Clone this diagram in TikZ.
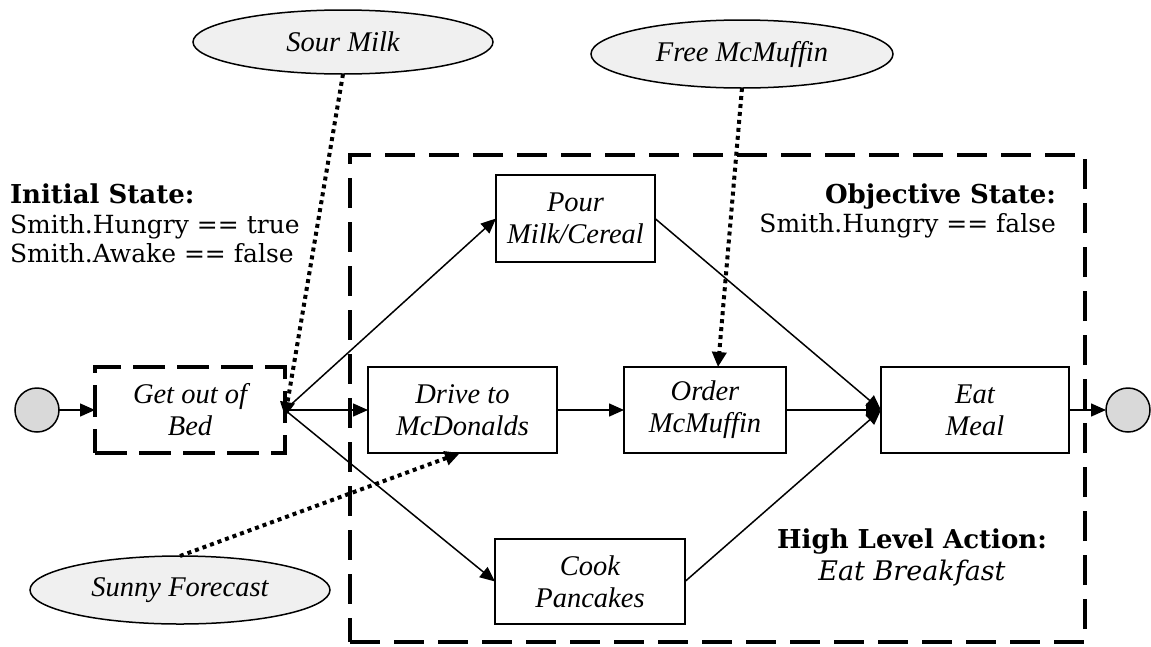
\documentclass[tikz,border=0pt]{standalone}
\usepackage{fontspec}
\setmainfont{DejaVu Serif}
\newfontfamily\tms{Liberation Serif}
\usetikzlibrary{arrows.meta,shapes.geometric}
\definecolor{circfill}{HTML}{D9D9D9}
\definecolor{ellfill}{HTML}{F0F0F0}
\begin{document}
\begin{tikzpicture}[x=1pt,y=-1pt,
  every node/.style={inner sep=0pt,outer sep=0pt},
  actfont/.style={font=\tms\itshape\fontsize{28.5}{32}\selectfont},
  act/.style={draw,line width=1.5pt,rectangle,align=center,actfont},
  hlabox/.style={draw,line width=4pt,rectangle,dash pattern=on 30pt off 14pt},
  goobox/.style={draw,line width=3.5pt,rectangle,align=center,actfont,dash pattern=on 32pt off 12pt},
  evt/.style={draw,line width=1.5pt,ellipse,fill=ellfill,actfont},
  term/.style={draw,line width=1.5pt,circle,fill=circfill,minimum size=44pt},
  flow/.style={line width=1.5pt,-{Triangle[length=15pt,width=13pt]}},
  influence/.style={line width=4pt,dash pattern=on 4pt off 4pt,-{Triangle[length=15pt,width=14pt]}},
  lbl/.style={font=\fontsize{25}{30}\selectfont},
  lblb/.style={font=\bfseries\fontsize{26}{30}\selectfont},
  lbli/.style={font=\itshape\fontsize{27}{30}\selectfont},
]
\useasboundingbox (0,0) rectangle (1151,646);

% high level action frame
\node[hlabox,minimum width=735pt,minimum height=487pt] (hla) at (717.5,398.5) {};

% start and end
\node[term] (start) at (37,410) {};
\node[term] (stop) at (1128,410) {};

% actions
\node[goobox,minimum width=190pt,minimum height=86pt] (bed) at (190,410) {Get out of\\Bed};
\node[act,minimum width=159pt,minimum height=87pt] (pour) at (575.5,218.5) {Pour\\Milk/Cereal};
\node[act,minimum width=189pt,minimum height=86pt] (drive) at (462.5,410) {Drive to\\McDonalds};
\node[act,minimum width=162pt,minimum height=86pt] (order) at (705,410) {Order\\McMuffin};
\node[act,minimum width=188pt,minimum height=86pt] (eat) at (975,410) {Eat\\Meal};
\node[act,minimum width=190pt,minimum height=85pt] (cook) at (590,581.5) {Cook\\Pancakes};

% events
\node[evt,minimum width=300pt,minimum height=64pt] (sour) at (343,42) {Sour Milk};
\node[evt,minimum width=302pt,minimum height=68pt] (free) at (742,54) {Free McMuffin};
\node[evt,minimum width=300pt,minimum height=68pt] (sunny) at (180,590) {Sunny Forecast};

% flows
\draw[flow] (start) -- (bed.west);
\draw[flow] (bed.east) -- (pour.west);
\draw[flow] (bed.east) -- (drive.west);
\draw[flow] (bed.east) -- (cook.west);
\draw[flow] (drive) -- (order);
\draw[flow] (pour.east) -- (eat.west);
\draw[flow] (order) -- (eat);
\draw[flow] (cook.east) -- (eat.west);
\draw[flow] (eat) -- (stop);

% influences
\draw[influence] (sour.south) -- ([yshift=-7pt]bed.east);
\draw[influence] (free.south) -- ([xshift=13pt]order.north);
\draw[influence] (sunny.north) -- ([xshift=-2.5pt]drive.south);

% state labels
\node[lblb,anchor=base west] (init1) at (10,203) {Initial State:};
\node[lbl,anchor=base west] (init2) at (10,233) {Smith.Hungry == true};
\node[lbl,anchor=base west] (init3) at (10,262) {Smith.Awake == false};
\node[lblb,anchor=base east] (obj1) at (1056,203) {Objective State:};
\node[lbl,anchor=base east] (obj2) at (1056,232) {Smith.Hungry == false};
\node[lblb,anchor=base] (hla1) at (912,548) {High Level Action:};
\node[lbli,anchor=base] (hla2) at (912,580) {Eat Breakfast};
\end{tikzpicture}
\end{document}
